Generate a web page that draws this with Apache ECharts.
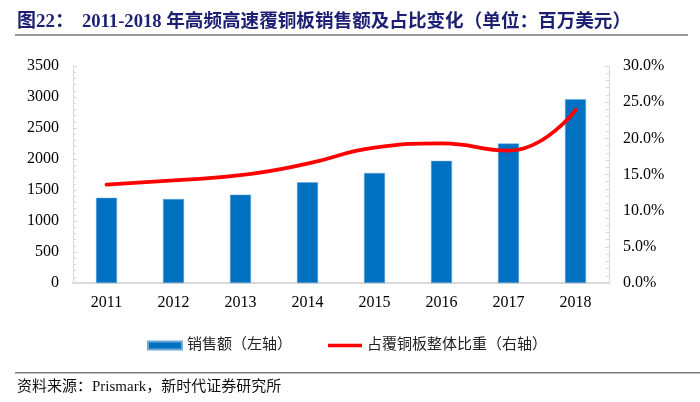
<!DOCTYPE html>
<html>
<head>
<meta charset="utf-8">
<script src="https://cdn.jsdelivr.net/npm/echarts@6/dist/echarts.min.js"></script>
<style>
html,body{margin:0;padding:0;background:#fff;}
#c{width:700px;height:402px;}
</style>
</head>
<body>
<div id="c"></div>
<script>
const categories = ['2011','2012','2013','2014','2015','2016','2017','2018'];
const salesValues = [1375, 1355, 1425, 1625, 1775, 1970, 2250, 2965];
const shareValues = [13.6, 14.2, 14.9, 16.5, 18.7, 19.3, 18.3, 23.9];
const leftTicks = {min: 0, max: 3500, interval: 500};
const rightTicks = {min: 0, max: 30, interval: 5};
const seriesNames = ['销售额（左轴）', '占覆铜板整体比重（右轴）'];
const titleLabel = '图22：';
const titleText = '2011-2018 年高频高速覆铜板销售额及占比变化（单位：百万美元）';
const sourceText = '资料来源：Prismark，新时代证券研究所';

const serif = '"Liberation Serif","Times New Roman","Noto Sans CJK SC"';
const chart = echarts.init(document.getElementById('c'));
const axisGray = '#d9d9d9';

chart.setOption({
  animation: false,
  backgroundColor: '#fff',
  grid: {left: 73, right: 91, top: 66, bottom: 119},
  legend: {
    left: 142, top: 333,
    itemWidth: 34, itemHeight: 8, itemGap: 36,
    textStyle: {fontFamily: serif, fontSize: 15, color: '#222'},
    data: [
      {name: seriesNames[0], icon: 'rect'},
      {name: seriesNames[1], icon: 'path://M0,0 L34,0 L34,3.5 L0,3.5 Z'}
    ]
  },
  xAxis: {
    type: 'category',
    data: categories,
    axisLine: {lineStyle: {color: axisGray, width: 2}},
    axisTick: {show: false},
    axisLabel: {fontFamily: serif, fontSize: 16, color: '#000', margin: 12}
  },
  yAxis: [
    {
      type: 'value', min: leftTicks.min, max: leftTicks.max, interval: leftTicks.interval,
      axisLine: {show: true, lineStyle: {color: axisGray, width: 1}},
      axisTick: {show: true, inside: true, length: 4, lineStyle: {color: axisGray}},
      minorTick: {show: true, splitNumber: 5, length: 3, lineStyle: {color: axisGray}},
      splitLine: {show: false},
      axisLabel: {fontFamily: serif, fontSize: 16, color: '#000', margin: 14,
        formatter: v => String(v)}
    },
    {
      type: 'value', min: rightTicks.min, max: rightTicks.max, interval: rightTicks.interval,
      position: 'right',
      axisLine: {show: true, lineStyle: {color: axisGray, width: 1}},
      axisTick: {show: true, inside: true, length: 4, lineStyle: {color: axisGray}},
      minorTick: {show: true, splitNumber: 5, length: 3, lineStyle: {color: axisGray}},
      splitLine: {show: false},
      axisLabel: {fontFamily: serif, fontSize: 16, color: '#000', margin: 14,
        formatter: v => v.toFixed(1) + '%'}
    }
  ],
  series: [
    {
      name: seriesNames[0], type: 'bar', yAxisIndex: 0,
      data: salesValues, barWidth: 21,
      itemStyle: {color: '#0070c0', borderColor: '#6fa8dc', borderWidth: 0.5}
    },
    {
      name: seriesNames[1], type: 'line', yAxisIndex: 1,
      data: shareValues, smooth: 0.5, showSymbol: false, symbol: 'none',
      lineStyle: {color: '#ff0000', width: 3.8, cap: 'round'},
      itemStyle: {color: '#ff0000'}
    }
  ],
  graphic: [
    {type: 'text', left: 17, top: 13, style: {text: titleLabel, font: 'bold 19px ' + serif, fill: '#1c1f72'}},
    {type: 'text', left: 82, top: 13, style: {text: titleText, font: 'bold 18.6px ' + serif, fill: '#1c1f72'}},
    {type: 'rect', shape: {x: 15, y: 34, width: 673, height: 2}, style: {fill: '#9a9a9a'}},
    {type: 'rect', shape: {x: 15, y: 372, width: 685, height: 1.5}, style: {fill: '#808080'}},
    {type: 'text', left: 17, top: 380, style: {text: sourceText, font: '15px ' + serif, fill: '#111'}}
  ]
});
</script>
</body>
</html>
